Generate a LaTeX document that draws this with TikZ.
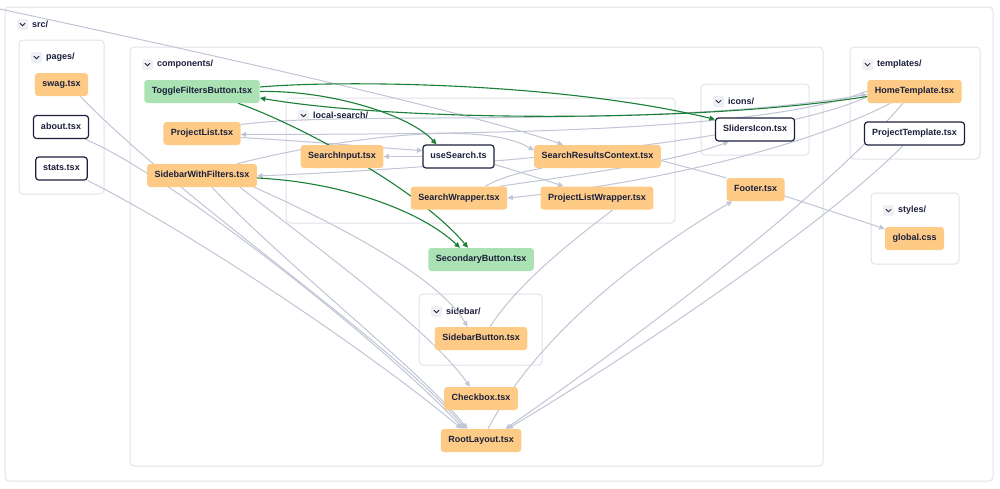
\documentclass[tikz,border=0pt]{standalone}
\usepackage{fontspec}
\setmainfont{Liberation Sans}
\usetikzlibrary{arrows.meta}
\definecolor{ink}{RGB}{27,31,59}
\definecolor{orangefill}{RGB}{253,203,134}
\definecolor{greenfill}{RGB}{170,226,179}
\definecolor{edgegray}{RGB}{193,198,214}
\definecolor{hotgreen}{RGB}{26,127,55}
\definecolor{grpline}{RGB}{224,227,235}
\definecolor{chevbg}{RGB}{238,240,244}
\pgfdeclarelayer{bg}
\pgfdeclarelayer{edges}
\pgfsetlayers{bg,edges,main}
\newcommand\dirbox[6]{%
  \draw[grp] (#2,#3) rectangle (#4,#5);
  \fill[chevbg, rounded corners=1.5pt] ({#2+12},{#3+12}) rectangle ({#2+23},{#3+23});
  \draw[chevmark] ({#2+15},{#3+16.3}) -- ({#2+17.5},{#3+18.8}) -- ({#2+20},{#3+16.3});
  \node[grplabel] (#1) at ({#2+27},{#3+17.5}) {#6};
}
\begin{document}
\begin{tikzpicture}[x=1pt,y=-1pt,
  grp/.style={draw=grpline, line width=1pt, fill=white, rounded corners=4pt},
  chevmark/.style={draw=ink, line width=0.8pt, line cap=round, line join=round},
  grplabel/.style={anchor=west, inner sep=0pt, text=ink, font=\fontsize{9}{11}\selectfont\bfseries},
  filenode/.style={rounded corners=3pt, minimum height=23pt, inner xsep=7.5pt, inner ysep=0pt,
    text height=6.5pt, text depth=1.8pt, text=ink, font=\fontsize{9}{11}\selectfont\bfseries},
  orangef/.style={filenode, fill=orangefill},
  greenf/.style={filenode, fill=greenfill},
  whitef/.style={filenode, fill=white, draw=ink, line width=1.2pt},
  dep/.style={draw=edgegray, line width=1pt, -{Triangle[length=5.5pt,width=5pt]}},
  depline/.style={draw=edgegray, line width=1pt},
  hot/.style={draw=hotgreen, line width=1.1pt, -{Triangle[length=5.5pt,width=5pt]}}]
\useasboundingbox (0,0) rectangle (1000,488);

\begin{pgfonlayer}{bg}
\fill[white] (0,0) rectangle (1000,488);
\dirbox{lbl-src}{5}{7}{993}{481}{src/}
\dirbox{lbl-pages}{19}{40}{104}{194}{pages/}
\dirbox{lbl-components}{130}{47}{823}{466}{components/}
\dirbox{lbl-local}{286}{98}{675}{223}{local-search/}
\dirbox{lbl-icons}{701}{84}{809}{155}{icons/}
\dirbox{lbl-sidebar}{419}{294}{542}{365}{sidebar/}
\dirbox{lbl-templates}{850}{47}{980}{159}{templates/}
\dirbox{lbl-styles}{871}{193}{959}{264}{styles/}
\end{pgfonlayer}

\node[orangef] (swag) at (61.5,84.5) {swag.tsx};
\node[whitef] (about) at (61,127) {about.tsx};
\node[whitef] (stats) at (61.5,168.5) {stats.tsx};
\node[greenf] (toggle) at (202,91.5) {ToggleFiltersButton.tsx};
\node[orangef] (plist) at (202,133.5) {ProjectList.tsx};
\node[orangef] (swf) at (202,175.5) {SidebarWithFilters.tsx};
\node[orangef] (sinput) at (342,156.5) {SearchInput.tsx};
\node[whitef] (usesearch) at (458.5,156.5) {useSearch.ts};
\node[orangef] (src) at (597.5,156.5) {SearchResultsContext.tsx};
\node[orangef] (swrap) at (459,198) {SearchWrapper.tsx};
\node[orangef] (plw) at (597,198) {ProjectListWrapper.tsx};
\node[greenf] (secbtn) at (481,259.5) {SecondaryButton.tsx};
\node[whitef] (sliders) at (755,129.5) {SlidersIcon.tsx};
\node[orangef] (footer) at (755.5,189.5) {Footer.tsx};
\node[orangef] (home) at (914.5,91.5) {HomeTemplate.tsx};
\node[whitef] (ptpl) at (914.5,133.5) {ProjectTemplate.tsx};
\node[orangef] (gcss) at (914.5,238.5) {global.css};
\node[orangef] (sbbtn) at (481,338.5) {SidebarButton.tsx};
\node[orangef] (checkbox) at (481,398.5) {Checkbox.tsx};
\node[orangef] (root) at (481,440.5) {RootLayout.tsx};

\coordinate (offstart) at (0,9);

\begin{pgfonlayer}{edges}
% gray dependencies
\draw[dep] (offstart) .. controls (200,52) and (470,112) .. ([xshift=29pt]src.north west);
\draw[dep] (stats.south east) .. controls (200,237) and (380,360) .. ([xshift=21pt]root.north west);
\draw[dep] ([xshift=-4pt]about.south east) .. controls (170,175) and (380,340) .. ([xshift=23pt]root.north west);
\draw[dep] ([xshift=-8pt]swag.south east) .. controls (180,200) and (390,340) .. ([xshift=25pt]root.north west);
\draw[dep] ([xshift=10pt]swf.south) .. controls (280,260) and (420,370) .. ([xshift=27pt]root.north west);
\draw[dep] ([xshift=38pt]swf.south) .. controls (320,250) and (430,330) .. ([xshift=26pt]checkbox.north west);
\draw[dep] ([xshift=-3pt]swf.south east) .. controls (350,230) and (440,280) .. ([xshift=33pt]sbbtn.north west);
\draw[dep] ([xshift=-11.5pt]home.south) .. controls (820,200) and (620,350) .. ([xshift=-16pt]root.north east);
\draw[dep] ([xshift=-11.5pt]ptpl.south) .. controls (830,220) and (640,350) .. ([xshift=-14pt]root.north east);
\draw[dep] ([xshift=7pt]root.north) .. controls (540,330) and (650,250) .. ([xshift=6pt]footer.south west);
\draw[dep] ([yshift=-6.5pt]footer.east) -- ([yshift=-2pt]gcss.north west);
\draw[depline] ([yshift=-4pt]src.east) -- (footer.north west);
\draw[dep] (usesearch.west) -- (sinput.east);
\draw[dep] ([yshift=-8pt]usesearch.east) .. controls (520,172) and (545,180) .. ([xshift=23pt]plw.north west);
\draw[dep] ([xshift=-24pt]home.south) .. controls (800,150) and (640,185) .. (swrap.east);
\draw[depline] ([xshift=26pt]swrap.north) .. controls (500,178) and (520,172) .. ([xshift=8pt]src.south west);
\draw[dep] ([xshift=-8pt]swrap.north east) .. controls (600,172) and (680,160) .. ([xshift=14pt]sliders.south west);
\draw[depline] ([xshift=9pt]sbbtn.north) .. controls (520,280) and (580,235) .. ([xshift=16pt]plw.south);
\draw[dep] ([yshift=0.5pt]home.west) .. controls (760,134) and (450,134) .. ([yshift=-1pt]plist.east);
\draw[dep] ([yshift=-5.5pt]home.west) .. controls (760,144) and (450,168) .. ([yshift=-0.5pt]swf.east);
\draw[dep] ([yshift=-4pt]plist.east) .. controls (320,142) and (380,148) .. ([yshift=6pt]usesearch.west);
\draw[dep] ([yshift=9pt]plist.east) .. controls (350,110) and (650,130) .. ([yshift=-3pt]home.west);
\draw[dep] ([xshift=35pt]swf.north) .. controls (330,140) and (480,118) .. ([yshift=6pt]src.west);
% green dependencies
\draw[hot] ([yshift=4.5pt]toggle.east) .. controls (340,80) and (560,82) .. ([yshift=-2pt]sliders.north west);
\draw[hot] ([yshift=-5pt]home.west) .. controls (700,123) and (400,122) .. ([yshift=-6.5pt]toggle.east);
\draw[hot] (toggle.east) .. controls (330,90) and (410,115) .. ([xshift=-22pt]usesearch.north);
\draw[hot] ([xshift=36pt]toggle.south) .. controls (300,125) and (420,190) .. ([xshift=-13pt]secbtn.north);
\draw[hot] ([yshift=-2.5pt]swf.east) .. controls (340,182) and (420,210) .. ([xshift=-21pt]secbtn.north);
\end{pgfonlayer}
\end{tikzpicture}
\end{document}
